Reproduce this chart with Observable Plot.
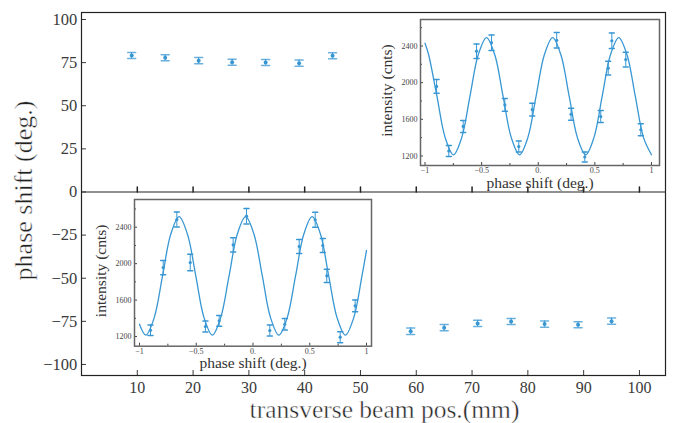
<!DOCTYPE html>
<html><head><meta charset="utf-8">
<script src="https://cdn.jsdelivr.net/npm/d3@7"></script>
<script src="https://cdn.jsdelivr.net/npm/@observablehq/plot@0.6"></script>
<style>
body{margin:0;background:#fff;}
#wrap{position:relative;width:682px;height:423px;overflow:hidden;background:#fff;}
#wrap svg{position:absolute;max-width:none;}
</style></head><body><div id="wrap"></div>
<script>
// ---- main chart data ----
const beamPos = [9, 15, 21, 27, 33, 39, 45, 59, 65, 71, 77, 83, 89, 95];
const phaseShift = [79.1, 77.8, 76.1, 75.2, 75.1, 74.7, 79.0, -80.7, -78.7, -76.2, -75.1, -76.6, -77.0, -74.9];
const phaseErr = [1.7, 1.7, 1.8, 1.7, 1.7, 1.8, 1.7, 1.9, 1.8, 1.8, 1.8, 1.8, 1.7, 1.8];
const mainXTicks = [10, 20, 30, 40, 50, 60, 70, 80, 90, 100];
const mainYTicks = [-100, -75, -50, -25, 0, 25, 50, 75, 100];

// ---- upper inset data ----
const upShift = [-0.898, -0.790, -0.663, -0.545, -0.413, -0.295, -0.172, -0.053, 0.163, 0.290, 0.411, 0.552, 0.618, 0.650, 0.773, 0.906];
const upCounts = [1959, 1254, 1522, 2343, 2436, 1757, 1302, 1706, 2462, 1655, 1189, 1630, 2158, 2457, 2252, 1486];
const upErr = [75, 60, 65, 80, 85, 70, 60, 70, 85, 65, 55, 65, 75, 85, 80, 65];
const upFitShift = [-1, -0.968, -0.895, -0.822, -0.749, -0.676, -0.603, -0.530, -0.457, -0.384, -0.311, -0.238, -0.165, -0.092, -0.019, 0.054, 0.127, 0.200, 0.273, 0.346, 0.419, 0.492, 0.565, 0.638, 0.711, 0.784, 0.857, 0.930, 1.0];
const upFitCounts = [2430, 2304, 1852, 1400, 1212, 1400, 1852, 2304, 2492, 2304, 1852, 1400, 1212, 1400, 1852, 2304, 2492, 2304, 1852, 1400, 1212, 1400, 1852, 2304, 2492, 2304, 1852, 1400, 1213];

// ---- lower inset data ----
const loShift = [-0.903, -0.791, -0.671, -0.553, -0.419, -0.298, -0.175, -0.057, 0.148, 0.280, 0.407, 0.548, 0.615, 0.650, 0.768, 0.900];
const loCounts = [1269, 1957, 2484, 2012, 1310, 1372, 2207, 2521, 1266, 1335, 2188, 2481, 2199, 1866, 1193, 1537];
const loErr = [58, 78, 82, 90, 60, 60, 78, 85, 60, 62, 78, 82, 78, 72, 60, 65];
const loFitShift = [-1, -0.944, -0.871, -0.797, -0.724, -0.651, -0.578, -0.504, -0.431, -0.358, -0.285, -0.211, -0.138, -0.065, 0.008, 0.082, 0.155, 0.228, 0.301, 0.375, 0.448, 0.521, 0.594, 0.667, 0.741, 0.814, 0.887, 0.960, 1.0];
const loFitCounts = [1335, 1215, 1405, 1865, 2325, 2515, 2325, 1865, 1405, 1215, 1405, 1865, 2325, 2515, 2325, 1865, 1405, 1215, 1405, 1865, 2325, 2515, 2325, 1865, 1405, 1215, 1405, 1865, 2145];

const insetXTicks = [-1, -0.5, 0, 0.5, 1];
const insetXMinor = [-0.75, -0.25, 0.25, 0.75];
const insetYTicks = [1200, 1600, 2000, 2400];
const insetYMinor = [1400, 1800, 2200, 2600];

// ---- drawing ----
const blue = "#3897d3";
const FONT = "'Liberation Serif', 'DejaVu Serif', serif";
const seg = {draw(ctx, l) { ctx.moveTo(0, 0); ctx.lineTo(0, -l); }};
const minus = d => d < 0 ? "\u2212" + (-d) : String(d);
const thin = {stroke: "white", strokeWidth: 0.45, paintOrder: "fill"};
const wrap = document.getElementById("wrap");

const mainData = beamPos.map((x, i) => ({x, y: phaseShift[i], e: phaseErr[i]}));

const main = Plot.plot({
  width: 682, height: 423,
  marginLeft: 81, marginRight: 17, marginTop: 12, marginBottom: 48,
  x: {domain: [0, 104.67]},
  y: {domain: [-106.4, 104.06]},
  style: {fontFamily: FONT, fontSize: "16px", color: "#3a3a3a", background: "transparent"},
  marks: [
    Plot.ruleY([0], {stroke: "#222", strokeWidth: 1.2}),
    Plot.vector(mainXTicks, {x: d => d, y: () => 0, length: 5, anchor: "start", shape: seg, stroke: "#222"}),
    Plot.axisX({ticks: mainXTicks, tickSize: -5, tickPadding: 11, tickFormat: d => String(d), label: null}),
    Plot.axisY({ticks: mainYTicks, tickSize: -5, tickPadding: 9.3, tickFormat: minus, label: null, fontSize: 16.5}),
    Plot.ruleX(mainData, {x: "x", y1: d => d.y - d.e, y2: d => d.y + d.e, stroke: blue, strokeWidth: 1}),
    Plot.vector(mainData, {x: "x", y: d => d.y - d.e, length: 8, rotate: 90, anchor: "middle", shape: seg, stroke: blue, strokeOpacity: 0.75}),
    Plot.vector(mainData, {x: "x", y: d => d.y + d.e, length: 8, rotate: 90, anchor: "middle", shape: seg, stroke: blue, strokeOpacity: 0.75}),
    Plot.dot(mainData, {x: "x", y: "y", r: 2, fill: blue}),
    Plot.frame({stroke: "#222", strokeWidth: 1.2}),
    Plot.text(["transverse beam pos.(mm)"], {frameAnchor: "bottom", textAnchor: "middle", lineAnchor: "middle", dx: 11, dy: 34.5, fontSize: 25.5, fill: "#222", ...thin}),
    Plot.text(["phase shift (deg.)"], {frameAnchor: "left", textAnchor: "middle", lineAnchor: "middle", rotate: -90, dx: -58, dy: -3.5, fontSize: 26, fill: "#222", ...thin})
  ]
});
main.style.left = "0px"; main.style.top = "0px";
wrap.appendChild(main);

function inset(cfg) {
  const pts = cfg.shift.map((x, i) => ({x, y: cfg.counts[i], e: cfg.err[i]}));
  const fit = cfg.fitX.map((x, i) => ({x, y: cfg.fitY[i]}));
  const p = Plot.plot({
    width: cfg.width, height: cfg.height,
    marginLeft: cfg.mL, marginRight: cfg.mR, marginTop: cfg.mT, marginBottom: cfg.mB,
    x: {domain: cfg.xDom},
    y: {domain: cfg.yDom},
    style: {fontFamily: FONT, fontSize: "8px", color: "#444", background: "transparent"},
    marks: [
      Plot.frame({fill: "white", stroke: "none"}),
      Plot.axisX({ticks: insetXTicks, tickSize: -3, tickPadding: 5, tickFormat: d => d === 0 ? "0." : minus(d), label: null}),
      Plot.axisX({ticks: insetXMinor, tickSize: -2, tickFormat: () => "", label: null}),
      Plot.axisY({ticks: insetYTicks, tickSize: -3, tickPadding: 6, tickFormat: d => String(d), label: null}),
      Plot.axisY({ticks: insetYMinor, tickSize: -2, tickFormat: () => "", label: null}),
      Plot.line(fit, {x: "x", y: "y", curve: "catmull-rom", stroke: blue, strokeWidth: 1.3}),
      Plot.ruleX(pts, {x: "x", y1: d => d.y - d.e, y2: d => d.y + d.e, stroke: blue, strokeWidth: 1}),
      Plot.vector(pts, {x: "x", y: d => d.y - d.e, length: 5, rotate: 90, anchor: "middle", shape: seg, stroke: blue}),
      Plot.vector(pts, {x: "x", y: d => d.y + d.e, length: 5, rotate: 90, anchor: "middle", shape: seg, stroke: blue}),
      Plot.dot(pts, {x: "x", y: "y", r: 1.6, fill: blue}),
      Plot.frame({stroke: "#666", strokeWidth: 1.5}),
      Plot.text(["phase shift (deg.)"], {frameAnchor: "bottom", textAnchor: "middle", lineAnchor: "middle", dy: 17.3, fontSize: 15.5, fill: "#333"}),
      Plot.text(["intensity (cnts)"], {frameAnchor: "left", textAnchor: "middle", lineAnchor: "middle", rotate: -90, dx: -33, dy: -2, fontSize: 15.5, fill: "#333"})
    ]
  });
  p.style.left = cfg.left + "px"; p.style.top = cfg.top + "px";
  wrap.appendChild(p);
}

inset({left: 370, top: 10, width: 300, height: 185, mL: 50, mR: 11, mT: 9, mB: 30,
  xDom: [-1.040, 1.071], yDom: [1096, 2689],
  shift: upShift, counts: upCounts, err: upErr, fitX: upFitShift, fitY: upFitCounts});

inset({left: 80, top: 190, width: 300, height: 185, mL: 54, mR: 9, mT: 9, mB: 29.3,
  xDom: [-1.044, 1.044], yDom: [1094, 2704],
  shift: loShift, counts: loCounts, err: loErr, fitX: loFitShift, fitY: loFitCounts});
</script></body></html>
